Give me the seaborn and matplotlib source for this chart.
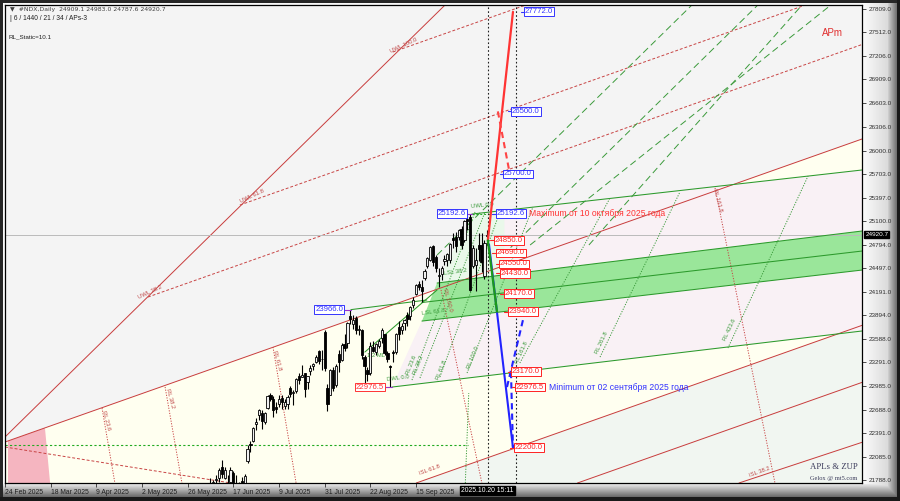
import numpy as np
import matplotlib
matplotlib.use("Agg")
import matplotlib.pyplot as plt
import seaborn as sns
from matplotlib.patches import Polygon

sns.set_style("white")
plt.rcParams['font.family'] = ['Liberation Sans', 'DejaVu Sans']

# ---------------- data ----------------
bars = list(range(69, 170))
opens = [21300,21495,21660,21720,21660,21790,21810,21950,21820,21700,21760,21880,21730,21720,21770,21630,
         22030,22240,22290,22500,22620,22640,22530,22710,22870,22820,22720,22760,22840,22730,22760,22960,
         22900,22930,23120,23110,23150,23040,23180,23240,23300,23440,23330,23680,22960,22880,23190,23000,
         23400,23320,23530,23540,23880,23780,23860,23700,23700,23360,23200,23150,23490,23420,23500,23600,
         23650,23410,23250,23420,23430,23750,23700,23790,23900,23880,24020,24160,24300,24260,24370,24530,
         24600,24780,24640,24400,24420,24590,24600,24600,24880,24890,24890,25000,24850,25120,25150,24520,
         24540,24790,24790,24400,24909.1]
highs = [21500,21680,21750,21820,21790,21850,21940,22040,21950,21850,21960,21900,21850,21760,21830,21870,
         22230,22290,22460,22580,22700,22680,22660,22880,22900,22860,22780,22870,22870,22820,22870,22990,
         22940,23090,23160,23260,23160,23120,23260,23290,23380,23450,23450,23710,23010,23210,23230,23270,
         23450,23540,23650,23810,23966,23900,23880,23770,23720,23380,23230,23550,23560,23540,23590,23730,
         23660,23440,23260,23450,23670,23820,23790,23850,23930,24010,24130,24290,24330,24350,24480,24640,
         24780,24790,24660,24500,24520,24660,24690,24820,24940,24960,25000,25030,25110,25160,25192.6,24790,
         24750,24950,24950,24850,24983.0]
lows = [21180,21450,21640,21500,21630,21750,21760,21820,21800,21600,21740,21700,21700,21620,21560,21520,
        22000,22150,22270,22430,22560,22440,22500,22700,22800,22600,22650,22720,22700,22690,22700,22850,
        22750,22900,23020,23100,22850,22950,23130,23200,23280,23270,23200,23180,22670,22870,22920,22980,
        23170,23310,23440,23480,23780,23720,23660,23640,23340,23000,23050,23130,23420,23390,23470,23540,
        23380,23300,22976.5,23300,23400,23580,23650,23700,23760,23830,23990,24150,24220,24060,24340,24500,
        24590,24520,24450,24250,24340,24540,24520,24560,24760,24700,24850,24740,24830,24990,24200,24500,
        24200,24590,24450,24360,24787.6]
closes = [21491,21647,21720,21547,21761,21800,21920,21860,21913,21631,21911,21719,21719,21680,21626,21842,
          22190,22237,22447,22534,22679,22542,22642,22867,22830,22685,22700,22830,22780,22780,22855,22884,
          22905,23077,23065,23133,22953,23120,23220,23272,23356,23308,23337,23218,22763,23200,22966,23250,
          23300,23520,23480,23800,23840,23832,23712,23713,23385,23250,23143,23498,23431,23525,23565,23703,
          23415,23330,23231,23415,23658,23652,23762,23839,23849,24000,24092,24275,24250,24200,24454,24626,
          24761,24580,24503,24403,24503,24611,24680,24800,24850,24785,24980,24786,25100,25098,24222,24750,
          24600,24740,24570,24820,24920.7]

date_ticks = [0, 16, 32, 48, 64, 80, 96, 112, 128, 144]
date_labels = ['24 Feb 2025', '18 Mar 2025', '9 Apr 2025', '2 May 2025', '26 May 2025', '17 Jun 2025',
               '9 Jul 2025', '31 Jul 2025', '22 Aug 2025', '15 Sep 2025']
price_ticks = [21788, 22085, 22391, 22688, 22985, 23291, 23588, 23894, 24191, 24497, 24794,
               25100, 25397, 25703, 26000, 26306, 26603, 26909, 27206, 27512, 27809]
last_price = 24920.7

# red solid channel lines (bar, price)
red_solid = [[(0, 22274), (300.3, 26147)],
             [(0, 22338), (154.2, 27860)],
             [(144.1, 21750), (300.3, 23765)],
             [(200.6, 21750), (300.3, 23036)],
             [(257.2, 21750), (300.3, 22270)]]
red_dashed = [[(50.1, 24127), (300.3, 27355)],
              [(82.3, 25303), (280.5, 27860)],
              [(135.9, 27259), (182.5, 27860)],
              [(0, 22210), (79.2, 21750)]]
red_dotted = [[(34.0, 22708), (38.5, 21750)],
              [(56.1, 22977), (62.0, 21750)],
              [(93.9, 23488), (102.0, 21750)],
              [(152.8, 24217), (167.1, 21750)],
              [(248.8, 25521), (269.8, 21750)]]
green_solid = [[(163.6, 25188), (300.3, 25751)],
               [(151.4, 24306), (300.3, 24971)],
               [(146.1, 24057), (300.3, 24715)],
               [(146.1, 23820), (300.3, 24472)],
               [(135.6, 22976.5), (300.3, 23693)],
               [(121.2, 23966), (147.8, 24089)],
               [(126.1, 23424), (151.4, 24217)]]
green_dotted = [[(142.6, 23066), (164.7, 25214)],
                [(145.4, 23092), (168.2, 25214)],
                [(152.4, 23105), (173.4, 25214)],
                [(161.9, 23156), (185.0, 25278)],
                [(180.4, 23284), (212.0, 25393)],
                [(208.5, 23360), (236.5, 25470)],
                [(253.3, 23475), (281.4, 25674)],
                [(161.3, 21750), (162.5, 22900)]]
green_fan = [[(151.4, 24664), (240.7, 27860)],
             [(174.5, 24664), (263.8, 27860)],
             [(184.0, 24792), (289.4, 27860)],
             [(204.6, 24792), (279.3, 27860)]]

zones = [([(0, 22274), (300.3, 26147), (300.3, 21700), (0, 21700)], '#fffff0'),
         ([(144.1, 21750), (300.3, 23765), (300.3, 21700), (144.1, 21700)], '#f1f6f1'),
         ([(135.6, 22976.5), (146.1, 23820), (300.3, 24472), (300.3, 23693)], '#f9f1f5'),
         ([(170, 24389), (300.3, 24971), (300.3, 25751), (170, 25214)], '#f9f1f5'),
         ([(151.4, 24306), (163.6, 25188), (175, 25235), (175, 24411)], '#eaf8ea'),
         ([(146.1, 23820), (151.4, 24306), (300.3, 24971), (300.3, 24472)], '#9ae69a'),
         ([(1.05, 22287), (14.0, 22453), (15.8, 21750), (1.05, 21750)], '#f5b5c0')]

# forecast (ZUP) paths
red_up = [(169.2, 24850), (178.0, 27772)]
red_mid = [(172.7, 26500), (176.9, 25700)]
blue_down = [(169.6, 24800), (178.0, 22200)]
blue_dash1 = [(175.9, 22976.5), (182.2, 23940)]
blue_dash2 = [(177.3, 23170), (178.0, 22200)]
green_thick = [(169.2, 24850), (172.4, 23940)]

red_boxes = [(171.3, 24850.0), (172.0, 24690.0), (173.1, 24550.0), (173.4, 24430.0), (174.8, 24170.0),
             (176.2, 23940.0), (177.3, 23170.0), (178.7, 22976.5), (178.3, 22200.0)]
blue_boxes = [(181.9, 27772.0), (177.3, 26500.0), (174.5, 25700.0), (172.0, 25192.6)]
left_boxes = [(161.9, 163.6, 25192.6, '#3333ff'), (118.8, 121.2, 23966.0, '#3333ff'),
              (133.1, 135.6, 22976.5, '#ff3333')]

red_labels = [('UWL 38.2', 50.8, 24191, 25), ('UWL 61.8', 86.5, 25418, 25), ('UWL 100.0', 139.8, 27349, 25),
              ('RL 23.6', 35.4, 22555, -75), ('RL 38.2', 57.8, 22836, -75), ('RL 61.8', 95.3, 23322, -75),
              ('RL 100.0', 155.2, 24089, -75), ('RL 161.8', 249.8, 25368, -75),
              ('ISL 61.8', 148.9, 21916, 20), ('ISL 38.2', 264.5, 21890, 20)]
green_labels = [('UWL 0.0', 167.1, 25303, 5), ('LSL 38.2', 157.7, 24447, 8), ('LSL 61.8', 150.0, 23936, 8),
                ('1/2 ML', 130.0, 23386, 0), ('DWL 0.0', 137.7, 23092, 7),
                ('RL 23.6', 142.3, 23258, 68), ('RL 38.2', 144.7, 23258, 68), ('RL 61.8', 152.8, 23194, 68),
                ('RL 100.0', 164.0, 23348, 68), ('RL 161.8', 181.1, 23411, 65), ('RL 261.8', 209.2, 23539, 65),
                ('RL 423.6', 254.0, 23705, 65)]

# ---------------- figure / frame ----------------
W, H = 900, 501
fig = plt.figure(figsize=(9, 5.01), dpi=100)
bg = fig.add_axes([0, 0, 1, 1])
img = np.full((H, W), 0.97)
img[:, 862:888] = np.linspace(0.99, 0.86, 26)[None, :]
img[:, 888:897] = np.linspace(0.80, 0.45, 9)[None, :]
img[484:497, :] = np.minimum(img[484:497, :], np.linspace(0.90, 0.42, 13)[:, None])
img[:, :3] = 0.15
img[:3, :] = 0.15
img[:, 897:] = 0.1
img[497:, :] = 0.1
bg.imshow(np.dstack([img] * 3), aspect='auto', interpolation='bilinear')
bg.axis('off')

ax = fig.add_axes([5 / W, (H - 483) / H, 857 / W, 478 / H])
ax.set_facecolor('#f4f4f4')
ax.set_xlim(0, 300.3)
ax.set_ylim(21750, 27860)

for pts, c in zones:
    ax.add_patch(Polygon(pts, closed=True, fc=c, ec='none', zorder=0.5))


def draw(lines, **kw):
    for ln in lines:
        xs, ys = zip(*ln)
        ax.plot(xs, ys, **kw)


draw(red_solid, color='#c83c3c', lw=0.7, zorder=1)
draw(red_dashed, color='#c84444', lw=0.7, ls=(0, (3, 2)), zorder=1)
draw(red_dotted, color='#c84444', lw=0.7, ls=(0, (1.2, 1.5)), zorder=1)
draw(green_solid, color='#2c9a2c', lw=0.75, zorder=1.2)
draw(green_dotted, color='#3a9a3a', lw=0.7, ls=(0, (1.2, 1.5)), zorder=1.2)
draw(green_fan, color='#3a9a3a', lw=0.7, ls=(0, (7, 4)), zorder=1.2)
ax.plot([0, 162.3], [22235, 22235], color='#22aa22', lw=0.8, ls=(0, (2, 2)), zorder=1.2)
ax.plot([163.6, 172.0], [25192.6, 25192.6], color='#22aa22', lw=0.7, ls=(0, (2, 2)), zorder=1.2)

ax.axhline(last_price, color='#bbbbbb', lw=0.7, zorder=1.1)
for xv in (169.2, 179.0):
    ax.axvline(xv, color='#202020', lw=0.8, ls=(0, (1.5, 2)), zorder=1.3)

# candles
o, h, l, c = map(np.array, (opens, highs, lows, closes))
up = c >= o
ax.vlines(bars, l, h, color='black', lw=0.8, zorder=3)
ax.bar(bars, np.maximum(np.abs(c - o), 8), bottom=np.minimum(o, c), width=0.78,
       color=np.where(up, '#f0f0f0', 'black'), edgecolor='black', lw=0.6, zorder=3.1)

# forecast paths
sns.lineplot(x=[p[0] for p in red_up], y=[p[1] for p in red_up], ax=ax, color='#ff3333', lw=1.6, zorder=4)
ax.plot(*zip(*red_mid), color='#ff4444', lw=1.5, ls=(0, (3, 2)), zorder=4)
sns.lineplot(x=[p[0] for p in blue_down], y=[p[1] for p in blue_down], ax=ax, color='#2222ff', lw=1.5, zorder=4)
ax.plot(*zip(*blue_dash1), color='#2222ff', lw=1.5, ls=(0, (3, 2)), zorder=4)
ax.plot(*zip(*blue_dash2), color='#2222ff', lw=1.5, ls=(0, (3, 2)), zorder=4)
ax.plot(*zip(*green_thick), color='#1a9a1a', lw=1.6, zorder=4)

bfs = 5.6
for bx, p in red_boxes:
    ax.plot([bx - 1.2, bx], [p, p], color='#ff2222', lw=0.8, zorder=4.5)
    ax.text(bx + 0.3, p, f'{p:.1f}', fontsize=bfs, color='#ff2222', ha='left', va='center', zorder=6,
            bbox=dict(boxstyle='square,pad=0.12', fc='white', ec='#ff2222', lw=0.7))
for bx, p in blue_boxes:
    ax.plot([bx - 1.2, bx], [p, p], color='#3333ff', lw=0.8, zorder=4.5)
    ax.text(bx + 0.3, p, f'{p:.1f}', fontsize=bfs, color='#3333ff', ha='left', va='center', zorder=6,
            bbox=dict(boxstyle='square,pad=0.12', fc='white', ec='#3333ff', lw=0.7))
for bx, tx, p, col in left_boxes:
    ax.plot([bx, tx], [p, p], color='#9933cc', lw=0.8, zorder=4.5)
    ax.text(bx - 0.3, p, f'{p:.1f}', fontsize=bfs, color=col, ha='right', va='center', zorder=6,
            bbox=dict(boxstyle='square,pad=0.12', fc='white', ec=col, lw=0.7))

ax.text(183.6, 25192.6, 'Maximum от 10 октября 2025 года', fontsize=6.2, color='#ff3333', ha='left', va='center', zorder=6)
ax.text(190.6, 22976.5, 'Minimum от 02 сентября 2025 года', fontsize=6.2, color='#3333ff', ha='left', va='center', zorder=6)

for t, bx, p, r in red_labels:
    ax.text(bx, p, t, fontsize=4.2, color='#c04848', rotation=r, ha='center', va='center', zorder=2)
for t, bx, p, r in green_labels:
    ax.text(bx, p, t, fontsize=4.2, color='#3a9a3a', rotation=r, ha='center', va='center', zorder=2)

ax.text(0.953, 0.941, 'APm', transform=ax.transAxes, fontsize=7, color='#e03030', ha='left', va='center')
ax.text(0.967, 0.034, 'APLs & ZUP', transform=ax.transAxes, fontsize=6.3, color='#3a3a5a', ha='center',
        va='center', family=['Liberation Serif', 'DejaVu Serif'])
ax.text(0.967, 0.01, 'Gelox @ mt5.com', transform=ax.transAxes, fontsize=4.6, color='#3a3a5a', ha='center',
        va='center', family=['Liberation Serif', 'DejaVu Serif'])
ax.text(0.006, 0.991, '▼  #NDX,Daily  24909.1 24983.0 24787.6 24920.7', transform=ax.transAxes, fontsize=4.4,
        color='#404040', ha='left', va='center', family=['DejaVu Sans'])
ax.text(0.006, 0.972, '| 6 / 1440 / 21 / 34 / APs-3', transform=ax.transAxes, fontsize=4.8,
        color='#202020', ha='left', va='center')
ax.text(0.004, 0.933, 'RL_Static=10.1', transform=ax.transAxes, fontsize=4.5,
        color='#202020', ha='left', va='center')

# axes
ax.yaxis.tick_right()
ax.set_yticks(price_ticks)
ax.set_yticklabels([f'{p}.0' for p in price_ticks])
ax.set_xticks(date_ticks)
ax.set_xticklabels(date_labels)
for lb in ax.get_xticklabels():
    lb.set_ha('left')
ax.tick_params(axis='y', right=True, length=3, width=0.6, color='#303030', labelsize=4.6,
               labelcolor='#303030', pad=2)
ax.tick_params(axis='x', bottom=True, length=3, width=0.6, color='#303030', labelsize=4.9,
               labelcolor='#202020', pad=1.5)
for s in ax.spines.values():
    s.set_color('black')
    s.set_linewidth(0.9)

ax.text(1.004, last_price, f'{last_price:.1f}', transform=ax.get_yaxis_transform(), fontsize=4.6,
        color='white', ha='left', va='center', zorder=7, clip_on=False,
        bbox=dict(boxstyle='square,pad=0.15', fc='black', ec='black'))
ax.text(159.8, -0.008, '2025.10.20 15:11', transform=ax.get_xaxis_transform(), fontsize=4.9,
        color='white', ha='left', va='top', zorder=7, clip_on=False,
        bbox=dict(boxstyle='square,pad=0.15', fc='black', ec='black'))

fig.savefig('out.png', dpi=100)
